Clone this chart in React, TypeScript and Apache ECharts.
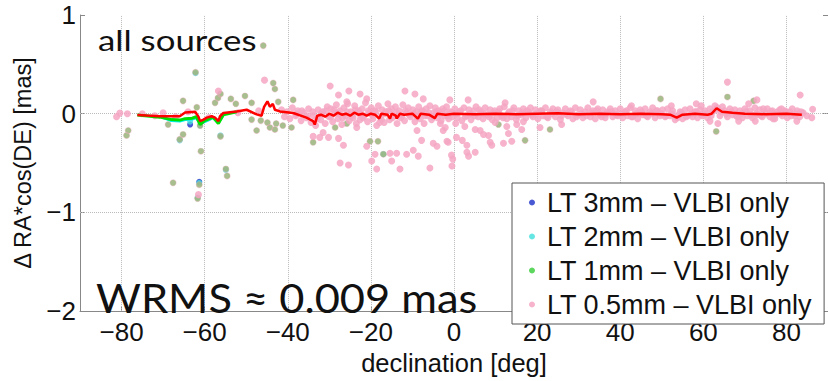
import React, { useEffect, useRef } from "react";
import * as echarts from "echarts";

const FONT = "'Liberation Sans', Arial, Helvetica, sans-serif";

const xTicks = [-80, -60, -40, -20, 0, 20, 40, 60, 80];
const yGrid = [0, -1];
const seriesNames = [
  "LT 3mm – VLBI only",
  "LT 2mm – VLBI only",
  "LT 1mm – VLBI only",
  "LT 0.5mm – VLBI only",
];
const seriesColors = ["#1a2fc8", "#3fe0dc", "#33cc33", "#f5a6c2"];

const pts3mm: number[][] = [[-63.5, -0.11], [-61.3, -0.69]];

const pts2mm: number[][] = [
  [-63.5, -0.08], [-61.3, -0.7], [-61.1, -0.12], [-54.9, -0.57], [-66.0, -0.27],
  [-17.0, -0.41], [-61.7, -0.85], [-62.2, 0.41], [-56.2, -0.22],
];

// sources visible in the 1 mm solution (overlaid by the 0.5 mm markers)
const sharedOutliers: number[][] = [
  [-45.9, 0.69], [-62.2, 0.42], [-43.5, 0.31], [-43.1, 0.25], [-56.2, 0.2], [-56.8, 0.16],
  [-57.5, 0.11], [-53.7, 0.15], [-50.3, 0.18], [-52.5, 0.1], [-48.7, 0.11], [-65.2, 0.13],
  [-61.9, 0.065], [-78.4, -0.17], [-78.8, -0.22], [-68.8, -0.11], [-61.1, -0.12], [-65.2, -0.21],
  [-66.0, -0.26], [-56.2, -0.23], [-60.9, -0.38], [-54.9, -0.56], [-54.6, -0.63], [-67.6, -0.7],
  [-61.3, -0.72], [-61.7, -0.86], [-47.5, -0.17], [-48.7, -0.06], [-46.5, -0.07], [-43.1, -0.16],
  [-42.8, -0.1], [-44.3, -0.14], [-39.1, -0.14], [-38.7, 0.14], [-42.3, 0.12], [-33.9, -0.29],
  [-28.6, -0.14], [-25.8, -0.1], [-20.2, -0.28], [-18.3, -0.28], [-17.0, -0.41], [10.7, -0.11],
  [17.1, -0.27], [23.1, -0.16], [21.1, 0.03], [49.7, 0.15], [65.8, 0.17], [72.1, 0.13],
  [63.1, -0.18], [-44.9, -0.09], [-41.2, -0.12],
];

const pinkOutliers: number[][] = [
  [-80.4, 0.006], [-81.2, -0.03], [-78.6, 0.0], [-45.6, 0.34], [-56.7, 0.23], [-61.5, -0.82],
  [-29.8, 0.28], [-25.3, 0.23], [-22.6, 0.2], [-21.0, 0.15], [-11.8, 0.23], [-9.4, 0.2],
  [-7.4, 0.15], [-25.8, 0.12], [-33.9, -0.23], [-32.3, -0.24], [-31.5, -0.19], [-30.2, -0.24],
  [-27.8, -0.25], [-26.6, -0.32], [-27.4, -0.5], [-25.4, -0.52], [-23.4, -0.14], [-21.0, -0.33],
  [-19.8, -0.48], [-18.6, -0.56], [-19.0, -0.41], [-17.9, -0.09], [-15.4, -0.4], [-13.8, -0.4],
  [-15.0, -0.48], [-13.0, -0.56], [-11.4, -0.41], [-9.8, -0.37], [-7.8, -0.27], [-8.6, -0.43],
  [-5.8, -0.55], [-5.0, -0.3], [-4.1, -0.33], [-3.3, -0.1], [-1.7, -0.28], [-2.1, -0.14],
  [-8.9, -0.17], [-27.8, 0.19], [-1.0, 0.14], [-2.6, -0.17], [-1.4, -0.29], [-0.6, -0.42],
  [-0.3, -0.46], [-0.5, -0.53], [0.6, -0.24], [0.4, -0.1], [2.6, -0.13], [2.0, -0.27],
  [3.1, -0.32], [3.1, -0.39], [3.4, 0.14], [5.1, -0.39], [3.5, -0.43], [5.1, -0.16],
  [6.3, -0.17], [7.1, -0.21], [8.3, -0.22], [8.7, -0.29], [9.1, -0.32], [9.9, -0.09],
  [11.9, -0.3], [12.7, -0.13], [13.1, -0.2], [13.9, -0.28], [15.1, -0.11], [16.3, -0.16],
  [16.7, -0.08], [20.7, -0.14], [25.9, -0.11], [33.5, 0.12], [12.3, 0.11], [65.8, 0.32],
  [61.6, -0.075], [63.5, -0.1], [72.9, 0.14], [70.9, 0.1], [83.3, 0.19], [82.5, -0.075],
  [86.3, 0.045], [86.1, -0.04], [84.9, -0.02], [72.5, -0.075], [68.5, -0.075], [76.8, -0.05],
  [78.8, 0.05], [74.4, 0.05], [52.3, 0.08], [42.7, 0.08], [59.5, 0.08], [58.3, 0.1],
];

const bandPts: number[][] = [
  [-75, 0.0], [-72, -0.02], [-70, 0.01], [-67, -0.03], [-64, 0.02], [-59, -0.04], [-52, 0.01], [-47, 0.03],
  [-41.5, 0.04], [-40.8, -0.03], [-40.2, 0.02], [-39.5, -0.05], [-38.9, 0.06], [-38.1, -0.02], [-37.6, 0.03],
  [-36.8, -0.07], [-36.2, 0.01], [-35.5, -0.04], [-35.0, 0.05], [-34.4, -0.09], [-33.8, -0.02], [-33.3, -0.12],
  [-32.7, 0.04], [-32.1, -0.06], [-31.6, 0.02], [-31.0, -0.1], [-30.5, 0.07], [-30.1, -0.03],
  [-29.6, 0.05], [-29.2, -0.08], [-28.7, 0.01], [-28.3, 0.09], [-27.9, -0.05], [-27.4, 0.03], [-27.0, -0.11],
  [-26.5, 0.06], [-26.1, -0.02], [-25.6, 0.1], [-25.2, -0.07], [-24.8, 0.02], [-24.3, -0.04], [-23.9, 0.08],
  [-23.5, -0.1], [-23.0, 0.03], [-22.6, -0.06], [-22.1, 0.05], [-21.7, -0.02], [-21.3, 0.11], [-20.8, -0.08],
  [-20.4, 0.01], [-19.9, 0.06], [-19.5, -0.05], [-19.1, 0.03], [-18.6, -0.12], [-18.2, 0.08], [-17.7, -0.03],
  [-17.3, 0.04], [-16.8, -0.09], [-16.4, 0.02], [-15.9, 0.1], [-15.5, -0.06], [-15.0, 0.05], [-14.6, -0.02],
  [-14.1, 0.07], [-13.7, -0.1], [-13.2, 0.03], [-12.8, -0.04], [-12.3, 0.09], [-11.9, -0.07], [-11.4, 0.01],
  [-11.0, 0.06], [-10.5, -0.03], [-9.9, 0.04], [-9.4, -0.08], [-9.0, 0.02], [-8.5, 0.07], [-8.1, -0.05],
  [-7.6, 0.03], [-7.2, -0.1], [-6.7, 0.05], [-6.3, -0.02], [-5.8, 0.08], [-5.4, -0.06], [-4.9, 0.01],
  [-4.5, 0.06], [-4.0, -0.04], [-3.6, 0.03], [-3.1, -0.07], [-2.7, 0.05], [-2.2, -0.02], [-1.8, 0.07],
  [-1.3, -0.05], [-0.9, 0.02], [-0.4, -0.03], [0.2, 0.05], [0.8, -0.04], [1.3, 0.02], [1.9, -0.07],
  [2.4, 0.06], [3.0, -0.02], [3.6, 0.04], [4.1, -0.06], [4.7, 0.03], [5.3, 0.07], [5.8, -0.03],
  [6.4, 0.02], [7.0, -0.05], [7.5, 0.06], [8.1, -0.01], [8.7, 0.04], [9.2, -0.06], [9.8, 0.03],
  [10.4, -0.04], [11.0, 0.05], [11.5, -0.02], [12.1, 0.07], [12.7, -0.05], [13.3, 0.02], [13.8, -0.03],
  [14.4, 0.06], [15.0, -0.06], [15.6, 0.03], [16.1, -0.01], [16.7, 0.05], [17.3, -0.04], [17.9, 0.02],
  [18.4, 0.06], [19.0, -0.03], [19.6, 0.04], [20.2, -0.05], [20.8, 0.03], [21.4, -0.02], [22.0, 0.06],
  [22.6, -0.04], [23.2, 0.02], [23.8, 0.05], [24.4, -0.03], [25.0, 0.04], [25.6, -0.06], [26.2, 0.01],
  [26.8, 0.05], [27.4, -0.02], [28.0, 0.03], [28.6, -0.05], [29.2, 0.06], [29.8, -0.01], [30.4, 0.04],
  [31.0, -0.04], [31.6, 0.02], [32.2, 0.06], [32.8, -0.03], [33.4, 0.03], [34.0, -0.05], [34.6, 0.05],
  [35.2, -0.01], [35.8, 0.04], [36.4, -0.04], [37.0, 0.02], [37.6, 0.05], [38.2, -0.03], [38.8, 0.03],
  [39.4, -0.02], [40.0, 0.05], [40.6, -0.04], [41.2, 0.02], [41.8, -0.02], [42.4, 0.06], [43.0, -0.03],
  [43.6, 0.03], [44.2, -0.05], [44.8, 0.04], [45.4, -0.01], [46.0, 0.05], [46.6, -0.03], [47.2, 0.02],
  [47.8, 0.06], [48.4, -0.04], [49.0, 0.03], [49.6, -0.02], [50.2, 0.04], [50.8, -0.03], [51.4, 0.05],
  [52.0, -0.02], [52.6, 0.03], [53.2, -0.06], [53.8, -0.04], [54.4, 0.02], [55.0, -0.05], [55.6, 0.04],
  [56.2, -0.02], [56.8, 0.05], [57.4, -0.03], [58.0, 0.02], [58.6, -0.04], [59.2, 0.04], [59.8, -0.02],
  [60.4, 0.03], [61.0, -0.04], [61.6, 0.05], [62.2, 0.02], [62.8, 0.08], [63.4, 0.06], [64.0, -0.02],
  [64.6, 0.07], [65.2, 0.03], [65.8, -0.03], [66.4, 0.05], [67.0, -0.01], [67.6, 0.04], [68.2, -0.03],
  [68.8, 0.03], [69.4, -0.04], [70.0, 0.05], [70.6, -0.02], [71.2, 0.03], [71.8, -0.04], [72.4, 0.06],
  [73.0, -0.01], [73.6, 0.04], [74.2, -0.03], [74.8, 0.02], [75.4, 0.05], [76.0, -0.03], [76.6, 0.03],
  [77.2, -0.05], [77.8, 0.02], [78.4, 0.04], [79.0, -0.02], [79.6, 0.03], [80.2, -0.04], [80.8, 0.02],
  [81.4, 0.05], [82.0, -0.02], [82.6, 0.03], [83.2, -0.03], [84.0, 0.01],
];

const bandPts2: number[][] = [
  [-37.9, 0.0], [-36.6, 0.03], [-35.2, -0.02], [-34.0, 0.02], [-32.9, -0.05], [-31.8, 0.0], [-30.8, 0.03],
  [-29.7, -0.03], [-28.9, 0.04], [-27.7, 0.0], [-26.8, -0.04], [-25.8, 0.02], [-24.6, -0.02], [-23.7, 0.04],
  [-22.8, 0.0], [-21.9, -0.04], [-20.6, 0.03], [-19.7, -0.01], [-18.8, 0.02], [-17.5, -0.06], [-16.6, 0.0],
  [-15.7, 0.03], [-14.8, -0.04], [-13.9, 0.01], [-12.6, -0.02], [-11.7, 0.03], [-10.8, -0.01], [-9.7, 0.0],
  [-8.8, -0.03], [-7.9, 0.02], [-7.0, -0.02], [-6.1, 0.01], [-5.1, -0.03], [-4.2, 0.02], [-3.3, 0.0],
  [-2.4, 0.03], [-1.5, -0.02], [-0.6, 0.01], [0.5, 0.0], [1.6, 0.03], [2.7, -0.03], [3.9, 0.0],
  [5.0, -0.02], [6.1, 0.04], [7.2, 0.0], [8.4, -0.03], [9.5, 0.01], [10.7, 0.02], [11.8, -0.04],
  [13.0, 0.0], [14.1, 0.03], [15.3, -0.02], [16.4, 0.01], [17.6, 0.03], [18.7, -0.01], [19.9, 0.0],
  [21.1, 0.02], [22.3, -0.03], [23.5, 0.0], [24.7, 0.02], [25.9, -0.02], [27.1, 0.0], [28.3, 0.02],
  [29.5, -0.03], [30.7, 0.0], [31.9, -0.02], [33.1, 0.01], [34.3, 0.03], [35.5, -0.03], [36.7, 0.0],
  [37.9, 0.02], [39.1, -0.01], [40.3, 0.0], [41.5, 0.03], [42.7, -0.03], [43.9, 0.0], [45.1, 0.02],
  [46.3, -0.02], [47.5, 0.0], [48.7, 0.03], [49.9, 0.0], [51.1, -0.02], [52.3, 0.0], [53.5, -0.02],
  [54.7, 0.01], [55.9, -0.03], [57.1, 0.0], [58.3, 0.02], [59.5, -0.01], [60.7, 0.0], [61.9, -0.02],
  [63.1, 0.04], [64.3, 0.02], [65.5, 0.0], [66.7, 0.02], [67.9, -0.02], [69.1, 0.0], [70.3, 0.02],
  [71.5, -0.01], [72.7, 0.0], [73.9, -0.02], [75.1, 0.0], [76.3, 0.02], [77.5, -0.01], [78.7, 0.0],
  [79.9, 0.02], [81.1, -0.02], [82.3, 0.0], [83.5, 0.02],
];

const meanHalfmm: number[][] = [
  [-76.2, -0.014], [-73, -0.02], [-70.8, -0.026], [-66, -0.026], [-64.7, 0.013], [-62.3, 0.02],
  [-61.5, -0.03], [-61.1, -0.075], [-60.3, -0.06], [-59.5, -0.04], [-58.3, -0.026], [-57.5, -0.04],
  [-56.7, -0.075], [-56.3, -0.026], [-55.5, 0.007], [-52.3, 0.023], [-49.9, 0.04], [-47.5, -0.007],
  [-46.3, -0.02], [-45.7, 0.07], [-44.9, 0.125], [-44.3, 0.07], [-43.6, 0.1], [-43.1, 0.04],
  [-41.9, 0.023], [-38.7, 0.007], [-35.5, -0.04], [-33.9, -0.075], [-33.5, -0.11], [-32.9, -0.02],
  [-32, -0.01], [-31, -0.03], [-30, 0.0], [-29, -0.02], [-28, 0.01], [-27, -0.01], [-26, 0.0],
  [-25, -0.02], [-24, 0.01], [-23, -0.01], [-22, 0.0], [-21, -0.02], [-20, 0.0], [-19, -0.01],
  [-18, -0.05], [-17.5, 0.0], [-16, -0.01], [-15.4, -0.05], [-15, 0.0], [-14, -0.02], [-13.8, -0.05],
  [-13, 0.0], [-12, -0.01], [-10, 0.0], [-8.7, -0.05], [-8, 0.0], [-6, -0.01], [-4.6, -0.045],
  [-4, 0.0], [-2, -0.01], [0, 0.0], [5, -0.005], [10, 0.0], [15, -0.005], [20, 0.0], [25, 0.005],
  [30, -0.005], [35, 0.0], [40, -0.005], [45, 0.0], [50, -0.005], [52, -0.01], [53.6, -0.04],
  [55, -0.01], [58, 0.0], [61, -0.01], [62, 0.0], [63.2, 0.055], [64.5, 0.02], [67, 0.01],
  [70, 0.0], [75, -0.005], [80, 0.0], [83.7, -0.01],
];

const mean1mm: number[][] = [
  [-76.2, -0.014], [-70.8, -0.035], [-68, -0.06], [-66, -0.065], [-64.7, -0.05], [-63, -0.045],
  [-62, -0.03], [-61.1, -0.11], [-60, -0.07], [-58, -0.035], [-56.7, -0.1], [-55.5, -0.01], [-52.3, 0.02],
];

const mean2mm: number[][] = [
  [-70, -0.04], [-68, -0.07], [-66, -0.075], [-64.7, -0.06], [-63, -0.055], [-62, -0.04],
  [-61.1, -0.1], [-60, -0.08], [-58, -0.04], [-56.7, -0.09], [-55.5, -0.01],
];

const fmt = (v: number) => String(v).replace("-", "\u2212");

export default function App() {
  const ref = useRef<HTMLDivElement>(null);
  useEffect(() => {
    if (!ref.current) return;
    const chart = echarts.init(ref.current, undefined, { renderer: "svg" });
    const halfData = [
      ...bandPts.map((p) => ({ value: p })),
      ...bandPts2.map((p) => ({ value: p })),
      ...pinkOutliers.map((p) => ({ value: p })),
      ...sharedOutliers.map((p) => ({ value: p, itemStyle: { opacity: 0.5 } })),
    ];
    chart.setOption({
      animation: false,
      grid: { left: 80, right: 0, top: 15, bottom: 59 },
      legend: {
        data: seriesNames,
        orient: "vertical",
        left: 512,
        top: 183,
        padding: [6, 12, 6, 17],
        itemGap: 7,
        itemWidth: 6,
        itemHeight: 6,
        icon: "circle",
        backgroundColor: "#fff",
        borderColor: "#555",
        borderWidth: 1,
        borderRadius: 0,
        textStyle: { fontSize: 27, fontFamily: FONT, color: "#111", padding: [0, 0, 0, 7] },
      },
      xAxis: {
        type: "value",
        min: -90,
        max: 90,
        name: "declination [deg]",
        nameLocation: "middle",
        nameGap: 37,
        nameTextStyle: { fontSize: 25.5, fontFamily: FONT, color: "#111" },
        axisLine: { show: true, onZero: false, lineStyle: { color: "#888" } },
        axisTick: { show: true, inside: true, length: 5, customValues: xTicks, lineStyle: { color: "#888" } },
        axisLabel: { customValues: xTicks, fontSize: 26, fontFamily: FONT, color: "#111", margin: 8, formatter: fmt },
        splitLine: { show: false },
      },
      yAxis: [
        {
          type: "value",
          min: -2,
          max: 1,
          interval: 1,
          position: "left",
          name: "Δ RA*cos(DE) [mas]",
          nameLocation: "middle",
          nameGap: 33,
          nameTextStyle: { fontSize: 23.5, fontFamily: FONT, color: "#111" },
          axisLine: { show: true, onZero: false, lineStyle: { color: "#888" } },
          axisTick: { show: true, inside: true, length: 5, lineStyle: { color: "#888" } },
          axisLabel: { fontSize: 26, fontFamily: FONT, color: "#111", margin: 4, formatter: fmt },
          splitLine: { show: false },
        },
        {
          type: "value",
          min: -2,
          max: 1,
          interval: 1,
          position: "right",
          axisLine: { show: true, onZero: false, lineStyle: { color: "#888" } },
          axisTick: { show: true, inside: true, length: 5, lineStyle: { color: "#888" } },
          axisLabel: { show: false },
          splitLine: { show: false },
        },
      ],
      graphic: [
        {
          type: "text",
          x: 98,
          y: 40,
          scaleX: 1.2,
          z: 10,
          style: { text: "all sources", fontSize: 29, fontFamily: "Lato, 'Open Sans', sans-serif", fill: "#111", verticalAlign: "middle" },
        },
        {
          type: "text",
          x: 96,
          y: 298,
          scaleX: 1.085,
          z: 10,
          style: { text: "WRMS ≈ 0.009 mas", fontSize: 40, fontFamily: "Lato, 'Open Sans', sans-serif", fill: "#111", verticalAlign: "middle" },
        },
      ],
      series: [
        {
          name: seriesNames[0],
          type: "scatter",
          symbol: "circle",
          symbolSize: 6,
          z: 2,
          itemStyle: { color: seriesColors[0] },
          data: pts3mm,
          markLine: {
            silent: true,
            z: 1,
            symbol: ["none", "none"],
            label: { show: false },
            lineStyle: { type: "dotted", color: "#bbb", width: 1 },
            emphasis: { disabled: true },
            data: [...xTicks.map((v) => ({ xAxis: v })), ...yGrid.map((v) => ({ yAxis: v }))],
          },
        },
        {
          name: seriesNames[1],
          type: "scatter",
          symbol: "circle",
          symbolSize: 6,
          z: 2,
          itemStyle: { color: seriesColors[1] },
          data: pts2mm,
        },
        {
          name: seriesNames[2],
          type: "scatter",
          symbol: "circle",
          symbolSize: 6,
          z: 2,
          itemStyle: { color: seriesColors[2] },
          data: sharedOutliers,
        },
        {
          name: seriesNames[3],
          type: "scatter",
          symbol: "circle",
          symbolSize: 7,
          z: 3,
          itemStyle: { color: seriesColors[3], opacity: 0.85 },
          data: halfData,
        },
        {
          name: "mean 2mm",
          type: "line",
          showSymbol: false,
          z: 4,
          lineStyle: { color: "#00f0f0", width: 3 },
          data: mean2mm,
        },
        {
          name: "mean 1mm",
          type: "line",
          showSymbol: false,
          z: 4,
          lineStyle: { color: "#00e000", width: 3 },
          data: mean1mm,
        },
        {
          name: "mean 0.5mm",
          type: "line",
          showSymbol: false,
          z: 5,
          lineStyle: { color: "#ff0000", width: 2.5 },
          data: meanHalfmm,
        },
      ],
    });
    return () => chart.dispose();
  }, []);
  return <div ref={ref} style={{ position: "fixed", left: 0, top: 0, width: 828, height: 381, background: "#fff" }} />;
}
